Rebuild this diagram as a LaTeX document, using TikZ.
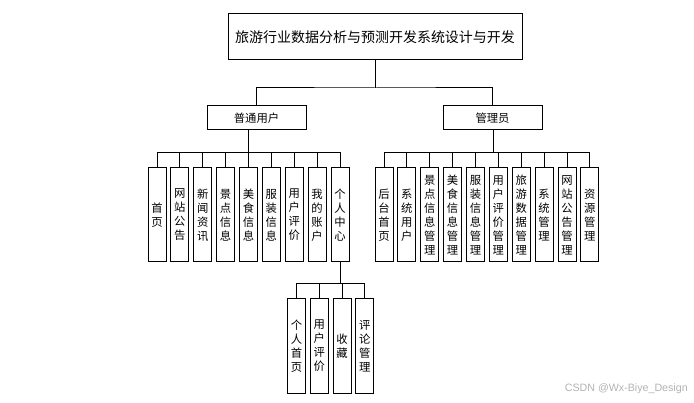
\documentclass[tikz,border=0pt]{standalone}
\usepackage{fontspec}
\newfontfamily\cjk{Noto Sans CJK SC}
\newfontfamily\wmfont{Liberation Sans}
\begin{document}
\begin{tikzpicture}[x=0.75pt,y=-0.75pt,
  box/.style={draw=black,line width=0.75pt,fill=white,inner sep=0pt,font=\cjk\fontsize{8.5}{10.5}\selectfont},
  topbox/.style={box,minimum width=220.5pt,minimum height=34.5pt,font=\cjk\fontsize{10.5}{12}\selectfont},
  midbox/.style={box,minimum width=74.25pt,minimum height=18pt},
  vbox/.style={box,minimum width=13.5pt,minimum height=70.5pt,align=center},
  conn/.style={draw=black,line width=0.75pt}]
\useasboundingbox (0,0) rectangle (694,403);
\node[topbox] (top) at (375,37) {旅游行业数据分析与预测开发系统设计与开发};
\node[midbox] (u) at (256.5,118) {普通用户};
\node[midbox] (a) at (492.5,118) {管理员};
% user children
\node[vbox] (u1) at (157,215) {首\\页};
\node[vbox] (u2) at (179.9,215) {网\\站\\公\\告};
\node[vbox] (u3) at (202.75,215) {新\\闻\\资\\讯};
\node[vbox] (u4) at (225.6,215) {景\\点\\信\\息};
\node[vbox] (u5) at (248.5,215) {美\\食\\信\\息};
\node[vbox] (u6) at (271.4,215) {服\\装\\信\\息};
\node[vbox] (u7) at (294.25,215) {用\\户\\评\\价};
\node[vbox] (u8) at (317.1,215) {我\\的\\账\\户};
\node[vbox] (u9) at (340,215) {个\\人\\中\\心};
% admin children
\node[vbox] (a1) at (384,215) {后\\台\\首\\页};
\node[vbox] (a2) at (406.9,215) {系\\统\\用\\户};
\node[vbox] (a3) at (429.75,215) {景\\点\\信\\息\\管\\理};
\node[vbox] (a4) at (452.6,215) {美\\食\\信\\息\\管\\理};
\node[vbox] (a5) at (475.5,215) {服\\装\\信\\息\\管\\理};
\node[vbox] (a6) at (498.4,215) {用\\户\\评\\价\\管\\理};
\node[vbox] (a7) at (521.25,215) {旅\\游\\数\\据\\管\\理};
\node[vbox] (a8) at (544.1,215) {系\\统\\管\\理};
\node[vbox] (a9) at (567,215) {网\\站\\公\\告\\管\\理};
\node[vbox] (a10) at (589.9,215) {资\\源\\管\\理};
% personal center children
\node[vbox] (p1) at (296.5,346) {个\\人\\首\\页};
\node[vbox] (p2) at (319.25,346) {用\\户\\评\\价};
\node[vbox] (p3) at (342,346) {收\\藏};
\node[vbox] (p4) at (364.75,346) {评\\论\\管\\理};
% junctions
\coordinate (j) at (375.5,88);
\coordinate (ub) at (248.5,153);
\coordinate (ab) at (493,153);
\coordinate (pb) at (340,284);
\draw[conn] (top.south -| j) -- (j);
\draw[conn] (u.north) |- (j) -| (a.north);
\draw[conn] (ub |- u.south) -- (ub);
\draw[conn] (ab |- a.south) -- (ab);
\foreach \n in {u1,u2,u3,u4,u5,u6,u7,u8,u9} \draw[conn] (\n.north) |- (ub);
\foreach \n in {a1,a2,a3,a4,a5,a6,a7,a8,a9,a10} \draw[conn] (\n.north) |- (ab);
\draw[conn] (u9.south) -- (pb);
\foreach \n in {p1,p2,p3,p4} \draw[conn] (\n.north) |- (pb);
\node[font=\wmfont\fontsize{8}{9}\selectfont,text=black!30,anchor=east,inner sep=0pt] (wm) at (688,388.5) {CSDN @Wx-Biye\_Design};
\end{tikzpicture}
\end{document}
